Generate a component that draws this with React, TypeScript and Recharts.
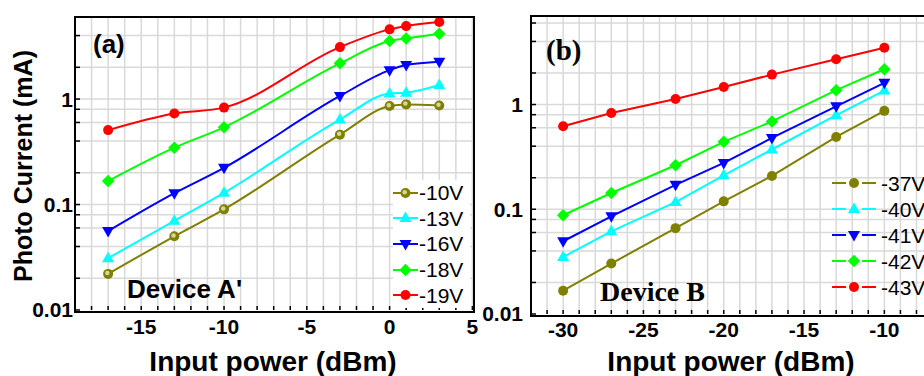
import React from "react";
import { LineChart, Line, XAxis, YAxis, CartesianGrid } from "recharts";

// ---- panel (a): Device A'
const powerA = [-17, -13, -10, -3, 0, 1, 3];
const a10V = [0.022, 0.05, 0.09, 0.46, 0.86, 0.89, 0.87];
const a13V = [0.031, 0.07, 0.129, 0.64, 1.13, 1.15, 1.36];
const a16V = [0.056, 0.128, 0.223, 1.07, 1.88, 2.1, 2.26];
const a18V = [0.167, 0.346, 0.54, 2.18, 3.55, 3.76, 4.16];
const a19V = [0.508, 0.73, 0.83, 3.11, 4.58, 4.92, 5.37];

// ---- panel (b): Device B
const powerB = [-30, -27, -23, -20, -17, -13, -10];
const b37V = [0.0167, 0.0303, 0.066, 0.119, 0.208, 0.49, 0.87];
const b40V = [0.035, 0.0616, 0.117, 0.211, 0.372, 0.79, 1.36];
const b41V = [0.0495, 0.0857, 0.171, 0.277, 0.48, 0.96, 1.61];
const b42V = [0.0877, 0.143, 0.263, 0.44, 0.69, 1.37, 2.17];
const b43V = [0.62, 0.83, 1.13, 1.47, 1.93, 2.71, 3.48];

const xTicksA = [-15, -10, -5, 0, 5];
const xTicksB = [-30, -25, -20, -15, -10];
const yTicks = [0.01, 0.1, 1];
const gridXA = Array.from({ length: 25 }, (_, i) => -19 + i);
const gridXB = Array.from({ length: 27 }, (_, i) => -32 + i);
const gridY = [0.02, 0.04, 0.06, 0.08, 0.1, 0.2, 0.4, 0.6, 0.8, 1, 2, 4, 6];

const SANS = "'Liberation Sans', Arial, sans-serif";
const SERIF = "'Liberation Serif', 'Times New Roman', serif";

const OLIVE = "#808000";
const CYAN = "#00ffff";
const BLUE = "#0000ff";
const GREEN = "#00ff00";
const RED = "#ff0000";

type Shape = "ball" | "circle" | "up" | "down" | "diamond";
interface Series {
  key: string;
  name: string;
  color: string;
  shape: Shape;
  values: number[];
}

const seriesA: Series[] = [
  { key: "v10", name: "-10V", color: OLIVE, shape: "ball", values: a10V },
  { key: "v13", name: "-13V", color: CYAN, shape: "up", values: a13V },
  { key: "v16", name: "-16V", color: BLUE, shape: "down", values: a16V },
  { key: "v18", name: "-18V", color: GREEN, shape: "diamond", values: a18V },
  { key: "v19", name: "-19V", color: RED, shape: "circle", values: a19V },
];
const seriesB: Series[] = [
  { key: "v37", name: "-37V", color: OLIVE, shape: "circle", values: b37V },
  { key: "v40", name: "-40V", color: CYAN, shape: "up", values: b40V },
  { key: "v41", name: "-41V", color: BLUE, shape: "down", values: b41V },
  { key: "v42", name: "-42V", color: GREEN, shape: "diamond", values: b42V },
  { key: "v43", name: "-43V", color: RED, shape: "circle", values: b43V },
];

const buildRows = (xs: number[], series: Series[]) =>
  xs.map((p, i) => {
    const row: { [k: string]: number } = { p };
    series.forEach((s) => (row[s.key] = s.values[i]));
    return row;
  });

const dataA = buildRows(powerA, seriesA);
const dataB = buildRows(powerB, seriesB);

function Marker({ cx, cy, shape, color, r = 5 }: { cx?: number; cy?: number; shape: Shape; color: string; r?: number }) {
  if (cx == null || cy == null) return null;
  switch (shape) {
    case "ball":
      return (
        <g>
          <circle cx={cx} cy={cy} r={r} fill={color} />
          <circle cx={cx - 0.8} cy={cy - 0.8} r={r * 0.45} fill="#d6d69a" />
        </g>
      );
    case "up":
      return <polygon points={`${cx},${cy - r * 1.3} ${cx + r * 1.2},${cy + r * 0.8} ${cx - r * 1.2},${cy + r * 0.8}`} fill={color} />;
    case "down":
      return <polygon points={`${cx},${cy + r * 1.3} ${cx + r * 1.2},${cy - r * 0.8} ${cx - r * 1.2},${cy - r * 0.8}`} fill={color} />;
    case "diamond":
      return <polygon points={`${cx},${cy - r * 1.25} ${cx + r * 1.25},${cy} ${cx},${cy + r * 1.25} ${cx - r * 1.25},${cy}`} fill={color} />;
    default:
      return <circle cx={cx} cy={cy} r={r} fill={color} />;
  }
}

const tickStyle = { fill: "#000", fontSize: 21, fontWeight: "bold", fontFamily: SANS };
const tickLineStyle = { stroke: "#000", strokeWidth: 1.5 };

function Panel({
  data, series, xDomain, yTop, xTicks, gridX, curve, margin, yWidth, yMargin, xMargin, width,
}: {
  data: { [k: string]: number }[]; series: Series[]; xDomain: [number, number]; yTop: number;
  xTicks: number[]; gridX: number[]; curve: "monotone" | "linear";
  margin: { top: number; right: number; left: number; bottom: number }; yWidth: number; yMargin: number; xMargin: number; width: number;
}) {
  const yGrid = gridY.filter((y) => y < yTop);
  return (
    <LineChart width={width} height={376} data={data} margin={margin}>
      <CartesianGrid stroke="#d9d9d9" strokeWidth={1.5} verticalValues={gridX} horizontalValues={yGrid} />
      <XAxis type="number" dataKey="p" domain={xDomain} ticks={gridX} allowDataOverflow axisLine={false}
        tickLine={tickLineStyle} tickSize={-4} tickMargin={xMargin + 4} height={40} tick={tickStyle} interval={0}
        tickFormatter={(v: number) => (xTicks.includes(v) ? String(v) : "")} />
      <YAxis scale="log" domain={[0.01, yTop]} ticks={[0.01, ...yGrid]} allowDataOverflow axisLine={false}
        tickLine={tickLineStyle} tickSize={-5} tickMargin={yMargin + 5} width={yWidth} tick={tickStyle} interval={0}
        tickFormatter={(v: number) => (yTicks.includes(v) ? String(v) : "")} />
      <YAxis yAxisId="r" orientation="right" scale="log" domain={[0.01, yTop]} ticks={yGrid} allowDataOverflow axisLine={false}
        tickLine={tickLineStyle} tickSize={-5} width={0} tick={false} interval={0} />
      {series.map((s) => (
        <Line key={s.key} type={curve} dataKey={s.key} stroke={s.color} strokeWidth={2} isAnimationActive={false} activeDot={false}
          dot={(props: any) => <Marker key={s.key + props.index} cx={props.cx} cy={props.cy} shape={s.shape} color={s.color} />} />
      ))}
    </LineChart>
  );
}

function LegendBox({ series, left, top, step, lineW, textGap, split, bg }: {
  series: Series[]; left: number; top: number; step: number; lineW: number; textGap: number; split: boolean; bg: boolean;
}) {
  return (
    <div style={{ position: "absolute", left, top, width: 77, height: step * 5, background: bg ? "#fff" : "transparent" }}>
      {series.map((s, i) => (
        <div key={s.key} style={{ position: "absolute", left: 0, top: i * step, height: step, display: "flex", alignItems: "center" }}>
          <svg width={lineW} height={16} style={{ display: "block" }}>
            {split ? (
              <>
                <line x1={0} y1={8} x2={lineW / 2 - 8} y2={8} stroke={s.color} strokeWidth={2} />
                <line x1={lineW / 2 + 8} y1={8} x2={lineW} y2={8} stroke={s.color} strokeWidth={2} />
              </>
            ) : (
              <line x1={0} y1={8} x2={lineW} y2={8} stroke={s.color} strokeWidth={2} />
            )}
            <Marker cx={lineW / 2} cy={8} shape={s.shape} color={s.color} />
          </svg>
          <span style={{ marginLeft: textGap, fontFamily: SANS, fontSize: 21, lineHeight: "21px", color: "#000" }}>{s.name}</span>
        </div>
      ))}
    </div>
  );
}

const abs = (left: number, top: number, extra: React.CSSProperties = {}): React.CSSProperties => ({
  position: "absolute", left, top, whiteSpace: "nowrap", color: "#000", ...extra,
});

const frame = (left: number, top: number, width: number, height: number): React.CSSProperties => ({
  position: "absolute", left: left - 1, top: top - 1, width, height, border: "2px solid #000", pointerEvents: "none",
});

export default function App() {
  return (
    <div style={{ position: "absolute", left: 0, top: 0, width: 924, height: 376, overflow: "hidden", background: "#fff" }}>
      <div style={{ position: "absolute", left: 0, top: 0 }}>
        <Panel data={dataA} series={seriesA} xDomain={[-19, 5]} yTop={6} xTicks={xTicksA} gridX={gridXA} curve="monotone"
          margin={{ top: 17, right: 7.6, left: 15, bottom: 26 }} yWidth={60} yMargin={2} xMargin={9} width={480} />
      </div>
      <div style={{ position: "absolute", left: 470, top: 0 }}>
        <Panel data={dataB} series={seriesB} xDomain={[-32, -6]} yTop={7} xTicks={xTicksB} gridX={gridXB} curve="linear"
          margin={{ top: 16, right: 1.4, left: 6, bottom: 22 }} yWidth={55} yMargin={8} xMargin={8} width={480} />
      </div>

      {/* plot frames */}
      <div style={frame(75, 17, 397.4, 293)} />
      <div style={frame(531, 16, 420, 298)} />

      <LegendBox series={seriesA} left={393} top={180} step={25.6} lineW={25} textGap={1} split={false} bg />
      <LegendBox series={seriesB} left={832} top={170} step={26} lineW={44} textGap={5} split bg={false} />

      <div style={abs(93, 29, { fontFamily: SANS, fontWeight: "bold", fontSize: 26, lineHeight: "30px" })}>(a)</div>
      <div style={abs(546, 34, { fontFamily: SERIF, fontWeight: "bold", fontSize: 29, lineHeight: "32px" })}>(b)</div>
      <div style={abs(127, 274, { fontFamily: SANS, fontWeight: "bold", fontSize: 26, lineHeight: "30px" })}>Device A'</div>
      <div style={abs(600, 276, { fontFamily: SERIF, fontWeight: "bold", fontSize: 28, lineHeight: "32px" })}>Device B</div>

      <div style={abs(23, 166, { fontFamily: SANS, fontWeight: "bold", fontSize: 25, lineHeight: "28px", transform: "translate(-50%, -50%) rotate(-90deg)" })}>
        Photo Current (mA)
      </div>
      <div style={abs(273, 362, { fontFamily: SANS, fontWeight: "bold", fontSize: 28, lineHeight: "30px", transform: "translate(-50%, -50%)" })}>
        Input power (dBm)
      </div>
      <div style={abs(731, 362, { fontFamily: SANS, fontWeight: "bold", fontSize: 28, lineHeight: "30px", transform: "translate(-50%, -50%)" })}>
        Input power (dBm)
      </div>
    </div>
  );
}
